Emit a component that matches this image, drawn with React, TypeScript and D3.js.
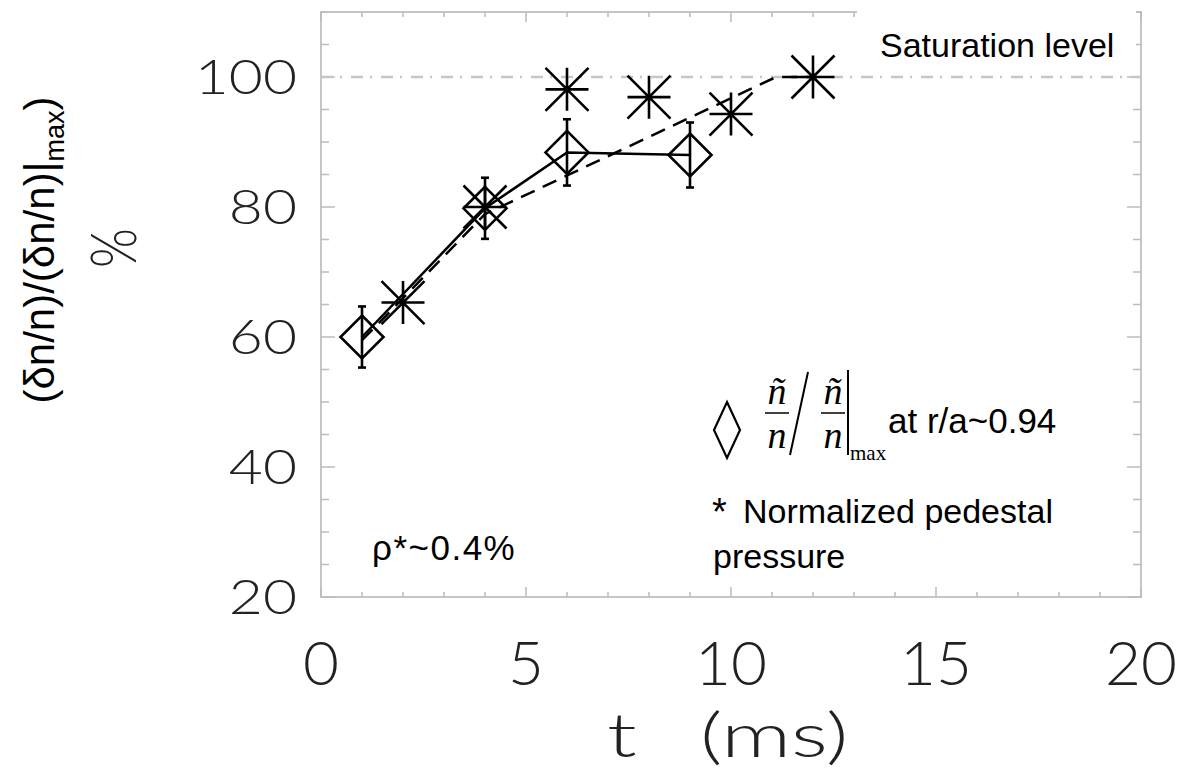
import React from "react";
import * as d3 from "d3";

// ---- data ----
const diamondT = [1, 4, 6, 9];
const diamondV = [60, 79.8, 88.4, 88.0];
const diamondErr = [4.7, 4.7, 5.1, 5.0];

const starT = [2, 4, 6, 8, 10, 12];
const starV = [65.3, 80.0, 98.1, 96.9, 94.3, 100];

const trendT = [1, 4, 11.1, 12];
const trendV = [59.5, 78.9, 100, 100];

const saturationLevel = 100;

const xTickLabels = [0, 5, 10, 15, 20];
const yTickLabels = [20, 40, 60, 80, 100];
const xMinorTicks = d3.range(0, 21, 1);
const yMinorTicks = d3.range(20, 111, 5);

const W = 1179;
const H = 775;

const LEFT = 321;
const RIGHT = 1141;
const TOP = 12;
const BOTTOM = 597;

const thinFont = "Lato, 'Open Sans', 'DejaVu Sans', sans-serif";
const arial = "'Liberation Sans', Arial, sans-serif";
const times = "'Liberation Serif', 'Times New Roman', serif";

export default function App() {
  const x = d3.scaleLinear().domain([0, 20]).range([LEFT, RIGHT]);
  const y = d3.scaleLinear().domain([20, 110]).range([BOTTOM, TOP]);

  const line = d3
    .line<[number, number]>()
    .x((d) => x(d[0]))
    .y((d) => y(d[1]));

  const diamondPts: [number, number][] = diamondT.map((t, i) => [t, diamondV[i]]);
  const trendPts: [number, number][] = trendT.map((t, i) => [t, trendV[i]]);

  const gray = "#c6c6c6";
  const tickGray = "#bbbbbb";
  const dm = 21.5; // diamond half size
  const st = 21.5; // asterisk half size
  const sw = 2.6;

  const starPath = `M0,${-st}V${st}M${-st},0H${st}M${-st},${-st}L${st},${st}M${-st},${st}L${st},${-st}`;
  const diamondPath = `M0,${-dm}L${dm},0L0,${dm}L${-dm},0Z`;

  const titleScale = 1.4;
  const titleX0 = 607;

  return (
    <svg width={W} height={H} style={{ display: "block", position: "absolute", left: 0, top: 0 }}>
      <rect x={0} y={0} width={W} height={H} fill="#fff" />

      {/* frame */}
      <rect x={LEFT} y={TOP} width={RIGHT - LEFT} height={BOTTOM - TOP} fill="none" stroke={gray} strokeWidth={2} />

      {/* x ticks bottom/top */}
      {xMinorTicks.map((t) => {
        const major = t % 5 === 0;
        const len = major ? 10 : 5;
        return (
          <g key={"xt" + t} stroke={tickGray} strokeWidth={1.5}>
            <line x1={x(t)} x2={x(t)} y1={BOTTOM} y2={BOTTOM - len} />
            <line x1={x(t)} x2={x(t)} y1={TOP} y2={TOP + len} />
          </g>
        );
      })}
      {/* y ticks left/right */}
      {yMinorTicks.map((v) => {
        const major = v % 20 === 0;
        const len = major ? 14 : 8;
        return (
          <g key={"yt" + v} stroke={tickGray} strokeWidth={1.5}>
            <line x1={LEFT} x2={LEFT + len} y1={y(v)} y2={y(v)} />
            <line x1={RIGHT} x2={RIGHT - len} y1={y(v)} y2={y(v)} />
          </g>
        );
      })}

      {/* saturation line */}
      <line
        x1={LEFT}
        x2={RIGHT}
        y1={y(saturationLevel)}
        y2={y(saturationLevel)}
        stroke={gray}
        strokeWidth={2.5}
        strokeDasharray="12 7 2 9"
      />

      {/* dashed trend */}
      <path d={line(trendPts) || ""} fill="none" stroke="#000" strokeWidth={2.5} strokeDasharray="15 9" />

      {/* solid line through diamonds */}
      <path d={line(diamondPts) || ""} fill="none" stroke="#000" strokeWidth={2.5} />

      {/* error bars */}
      {diamondT.map((t, i) => {
        const cx = x(t);
        const y1 = y(diamondV[i] + diamondErr[i]);
        const y2 = y(diamondV[i] - diamondErr[i]);
        return (
          <g key={"eb" + i} stroke="#000" strokeWidth={sw}>
            <line x1={cx} x2={cx} y1={y1} y2={y2} />
            <line x1={cx - 4} x2={cx + 4} y1={y1} y2={y1} />
            <line x1={cx - 4} x2={cx + 4} y1={y2} y2={y2} />
          </g>
        );
      })}

      {/* diamond markers */}
      {diamondT.map((t, i) => (
        <path
          key={"dm" + i}
          d={diamondPath}
          transform={`translate(${x(t)},${y(diamondV[i])})`}
          fill="none"
          stroke="#000"
          strokeWidth={sw}
        />
      ))}

      {/* asterisk markers */}
      {starT.map((t, i) => (
        <path
          key={"st" + i}
          d={starPath}
          transform={`translate(${x(t)},${y(starV[i])})`}
          fill="none"
          stroke="#000"
          strokeWidth={sw}
        />
      ))}

      {/* white box behind saturation label */}
      <rect x={857} y={4} width={279} height={60} fill="#fff" />
      <text x={880} y={57} fontFamily={arial} fontSize={34} fill="#000">
        Saturation level
      </text>

      {/* x tick labels */}
      {xTickLabels.map((t) => (
        <text
          key={"xl" + t}
          x={x(t)}
          y={685}
          textAnchor="middle"
          fontFamily={thinFont}
          fontWeight={300}
          fontSize={62}
          fill="#222"
        >
          {t}
        </text>
      ))}
      <text
        y={757}
        fontFamily={thinFont}
        fontWeight={300}
        fontSize={62}
        fill="#222"
        transform={`translate(${titleX0},0) scale(${titleScale},1) translate(${-titleX0},0)`}
      >
        <tspan x={titleX0}>t</tspan>
        <tspan x={titleX0 + (700 - titleX0) / titleScale}>(ms)</tspan>
      </text>

      {/* y tick labels */}
      {yTickLabels.map((v) => (
        <text
          key={"yl" + v}
          transform={`translate(297,${y(v) + 17}) scale(1.25,1)`}
          textAnchor="end"
          fontFamily={thinFont}
          fontWeight={300}
          fontSize={47}
          fill="#222"
        >
          {v}
        </text>
      ))}

      {/* y axis title */}
      <text transform="translate(54,250) rotate(-90)" textAnchor="middle" fontFamily={arial} fontSize={42} fill="#000">
        (δn/n)/(δn/n)|<tspan fontSize={27} dy={10}>max</tspan>
        <tspan dy={-10}>)</tspan>
      </text>
      <text
        transform="translate(136,248) rotate(-90) scale(0.8,1)"
        textAnchor="middle"
        fontFamily={thinFont}
        fontWeight={300}
        fontSize={64}
        fill="#222"
      >
        %
      </text>

      {/* legend: diamond */}
      <path d="M727,402L740,430L727,458L714,430Z" fill="none" stroke="#000" strokeWidth={2.2} />
      {/* fractions */}
      <text fontFamily={times} fontStyle="italic" fontSize={38} textAnchor="middle">
        <tspan x={777} y={404}>ñ</tspan>
        <tspan x={833} y={404}>ñ</tspan>
      </text>
      <text fontFamily={times} fontStyle="italic" fontSize={38} textAnchor="middle">
        <tspan x={777} y={448}>n</tspan>
        <tspan x={833} y={448}>n</tspan>
      </text>
      <line x1={765} x2={789} y1={413} y2={413} stroke="#000" strokeWidth={1.5} />
      <line x1={790} y1={455} x2={808} y2={372} stroke="#000" strokeWidth={2} />
      <line x1={821} x2={845} y1={413} y2={413} stroke="#000" strokeWidth={1.5} />
      <line x1={848} x2={848} y1={370} y2={455} stroke="#000" strokeWidth={2} />
      <text x={850} y={460} fontFamily={times} fontSize={21}>
        max
      </text>
      <text x={888} y={433} fontFamily={arial} fontSize={35}>
        at r/a~0.94
      </text>

      {/* legend: asterisk */}
      <text x={712} y={525} fontFamily={arial} fontSize={38}>
        *
      </text>
      <text x={743} y={523} fontFamily={arial} fontSize={34}>
        Normalized pedestal
      </text>
      <text x={713} y={568} fontFamily={arial} fontSize={34}>
        pressure
      </text>

      {/* rho */}
      <text x={372} y={560} fontFamily={arial} fontSize={35} letterSpacing={1.5}>
        ρ*~0.4%
      </text>
    </svg>
  );
}
